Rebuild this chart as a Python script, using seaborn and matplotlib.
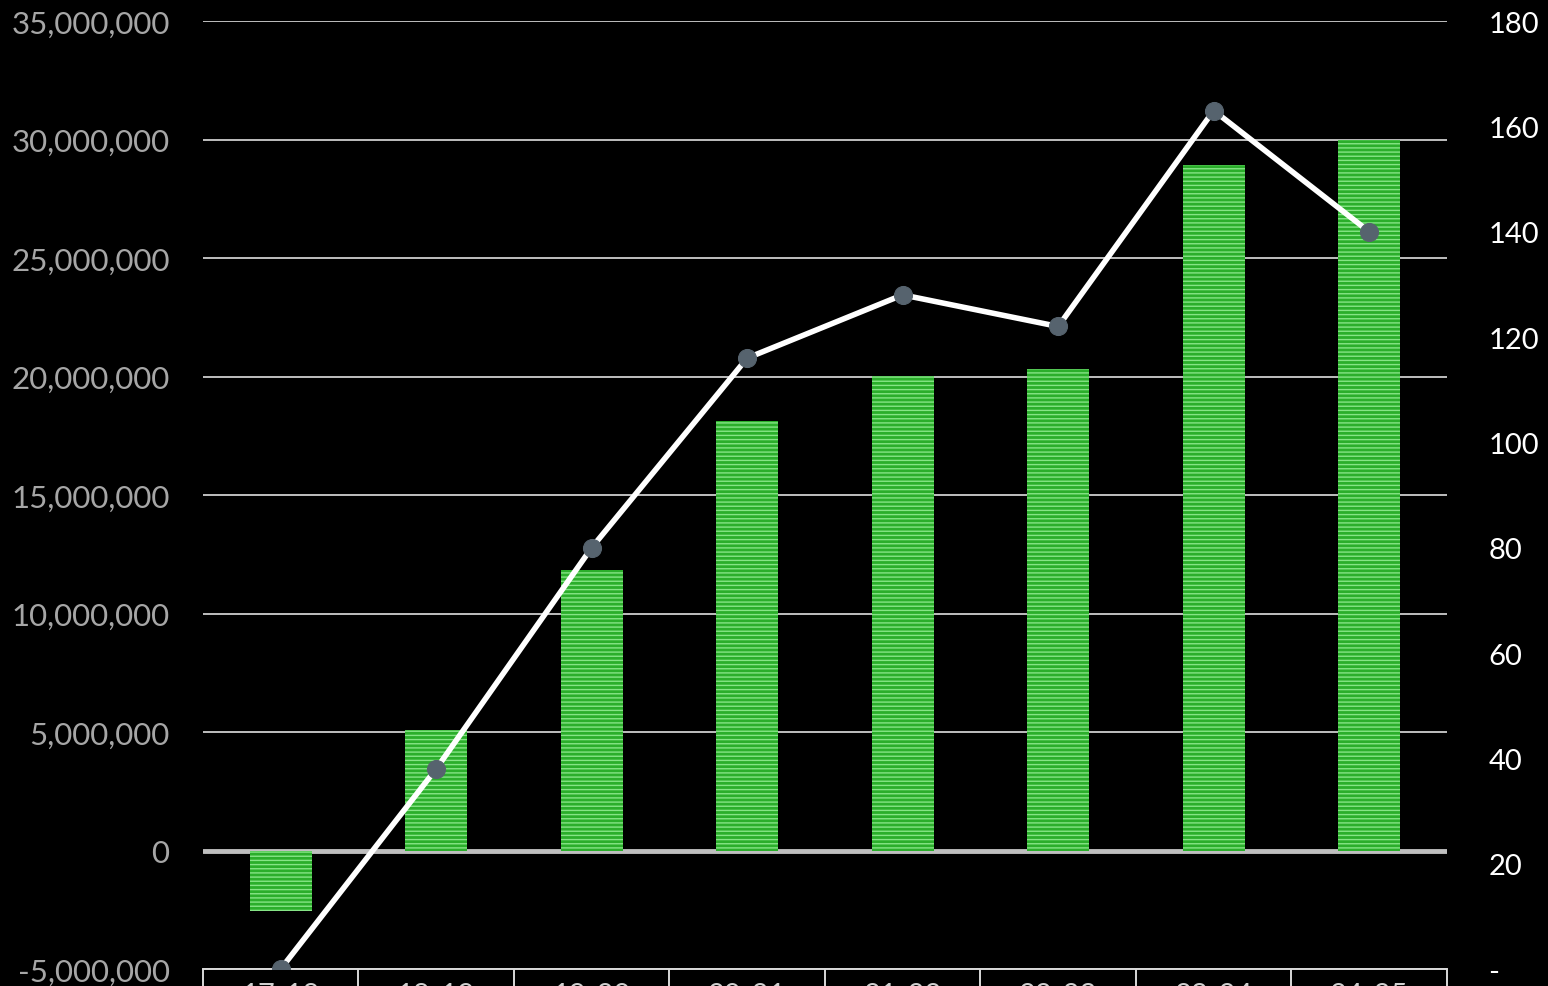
import matplotlib
matplotlib.use("Agg")
import matplotlib.pyplot as plt
import matplotlib.ticker as mticker
import seaborn as sns
import pandas as pd
import numpy as np

categories = ["17-18", "18-19", "19-20", "20-21", "21-22", "22-23", "23-24", "24-25"]
bar_values = [-2570000, 5100000, 11850000, 18130000, 20030000, 20330000, 28930000, 29980000]
line_values = [0, 38, 80, 116, 128, 122, 163, 140]
left_ticks = [-5000000, 0, 5000000, 10000000, 15000000, 20000000, 25000000, 30000000, 35000000]
right_ticks = [0, 20, 40, 60, 80, 100, 120, 140, 160, 180]

df = pd.DataFrame({"cat": categories, "bar": bar_values, "line": line_values})

sns.set_theme(style="dark")
plt.rcParams["font.family"] = ["Lato", "DejaVu Sans"]
plt.rcParams["hatch.linewidth"] = 1.0

fig = plt.figure(figsize=(15.48, 9.87), dpi=100, facecolor="black")
ax = fig.add_axes([0.1311, 0.0172, 0.8036, 0.9605])
ax.set_facecolor("black")

sns.barplot(data=df, x="cat", y="bar", ax=ax, color="#2BAE2B", width=0.4,
            saturation=1, linewidth=0, zorder=3)
for p in ax.patches:
    p.set_hatch("----")
    p.set_edgecolor("#86E486")
    p.set_linewidth(0)

ax.set_ylim(-5000000, 35000000)
ax.set_xlim(-0.5, len(categories) - 0.5)
ax.set_yticks(left_ticks)
ax.yaxis.set_major_formatter(mticker.FuncFormatter(lambda v, p: f"{int(v):,}"))
ax.tick_params(axis="y", length=0, pad=24, labelsize=22.5, labelcolor="#A6A6A6")
ax.grid(axis="y", color="#BFBFBF", linewidth=1.4, zorder=1)
ax.grid(axis="x", visible=False)
ax.axhline(0, color="#BFBFBF", linewidth=3.5, zorder=2)

ax.set_xticks(range(len(categories)))
ax.set_xticklabels(categories)
ax.set_xticks(np.arange(-0.5, len(categories), 1.0), minor=True)
ax.tick_params(axis="x", which="major", length=0, pad=9, labelsize=21, labelcolor="#D0D0D0")
ax.tick_params(axis="x", which="minor", length=25, width=1.4, color="#D9D9D9", direction="out",
               bottom=True)
ax.set_xlabel("")
ax.set_ylabel("")
for s in ["top", "left", "right"]:
    ax.spines[s].set_visible(False)
ax.spines["bottom"].set_color("#D9D9D9")
ax.spines["bottom"].set_linewidth(1.4)

ax2 = ax.twinx()
sns.lineplot(data=df, x="cat", y="line", ax=ax2, color="white", linewidth=4,
             marker="o", markersize=13, markerfacecolor="#56636E",
             markeredgecolor="#56636E", zorder=5, sort=False)
ax2.set_ylim(0, 180)
ax2.set_yticks(right_ticks)
ax2.yaxis.set_major_formatter(mticker.FuncFormatter(lambda v, p: "-" if v == 0 else f"{int(v)}"))
ax2.tick_params(axis="y", length=0, pad=30, labelsize=21, labelcolor="white")
for lbl in ax2.get_yticklabels():
    lbl.set_horizontalalignment("left")
ax2.set_ylabel("")
ax2.grid(False)
for s in ["top", "left", "right", "bottom"]:
    ax2.spines[s].set_visible(False)
ax2.set_facecolor("none")

fig.savefig("out.png", dpi=100, facecolor="black")
